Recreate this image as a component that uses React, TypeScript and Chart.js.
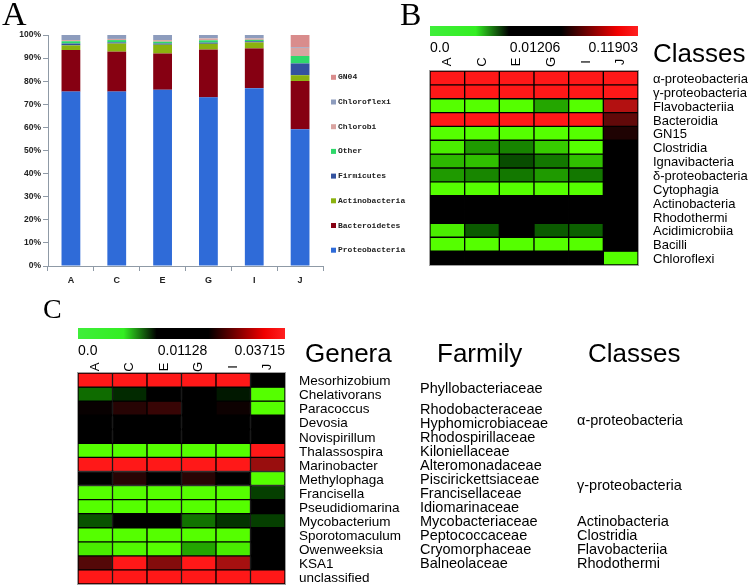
import React, { useEffect, useRef } from 'react';
import { Chart, registerables } from 'chart.js';

Chart.register(...registerables);

// ---------- Panel A: relative abundance of phyla ----------
const sampleLabels = ['A', 'C', 'E', 'G', 'I', 'J'];
const phylumNames = ['Proteobacteria', 'Bacteroidetes', 'Actinobacteria', 'Firmicutes', 'Other', 'Chlorobi', 'Chloroflexi', 'GN04'];
const proteobacteria = [75.5, 75.5, 76.3, 73.0, 77.0, 59.2];
const bacteroidetes = [18.0, 17.3, 15.7, 20.7, 17.2, 20.9];
const actinobacteria = [2.0, 3.5, 3.8, 2.5, 2.6, 2.5];
const firmicutes = [0.8, 0.5, 0.5, 0.5, 0.5, 5.1];
const otherPhyla = [1.0, 1.0, 0.8, 1.0, 0.6, 3.2];
const chlorobi = [0.5, 0.5, 0.7, 0.8, 0.6, 3.5];
const chloroflexi = [2.2, 1.7, 2.2, 1.5, 1.5, 0.3];
const gn04 = [0, 0, 0, 0, 0, 5.3];
const phylumSeries = [proteobacteria, bacteroidetes, actinobacteria, firmicutes, otherPhyla, chlorobi, chloroflexi, gn04];
const phylumColors = ['#2f6bd8', '#860012', '#8bb20f', '#34529e', '#2fd86a', '#d9a3a0', '#8d9cbd', '#d98c8c'];

// ---------- Panel B: classes heatmap ----------
const classNames = ['α-proteobacteria', 'γ-proteobacteria', 'Flavobacteriia', 'Bacteroidia', 'GN15', 'Clostridia', 'Ignavibacteria', 'δ-proteobacteria', 'Cytophagia', 'Actinobacteria', 'Rhodothermi', 'Acidimicrobiia', 'Bacilli', 'Chloroflexi'];
const classScale = [0.0, 0.01206, 0.11903];
const classScaleLabels = ['0.0', '0.01206', '0.11903'];
const classMatrix = [
  [0.11903, 0.11903, 0.11903, 0.11903, 0.11903, 0.11903],
  [0.11903, 0.11903, 0.11903, 0.11903, 0.11903, 0.11903],
  [0.0, 0.0, 0.0, 0.0042, 0.0, 0.087],
  [0.11903, 0.11903, 0.11903, 0.11903, 0.11903, 0.0527],
  [0.0, 0.0, 0.0, 0.0, 0.0, 0.0249],
  [0.0008, 0.0048, 0.0058, 0.0024, 0.0, 0.01206],
  [0.0033, 0.003, 0.0084, 0.0064, 0.003, 0.01206],
  [0.0048, 0.0057, 0.0064, 0.0048, 0.0064, 0.01206],
  [0.0, 0.0, 0.0, 0.0, 0.0, 0.01206],
  [0.01206, 0.01206, 0.01206, 0.01206, 0.01206, 0.01206],
  [0.01206, 0.01206, 0.01206, 0.01206, 0.01206, 0.01206],
  [0.0008, 0.0078, 0.01206, 0.0078, 0.0075, 0.01206],
  [0.0, 0.0, 0.0, 0.0, 0.0, 0.01206],
  [0.01206, 0.01206, 0.01206, 0.01206, 0.01206, 0.0],
];

// ---------- Panel C: genera heatmap ----------
const genusNames = ['Mesorhizobium', 'Chelativorans', 'Paracoccus', 'Devosia', 'Novispirillum', 'Thalassospira', 'Marinobacter', 'Methylophaga', 'Francisella', 'Pseudidiomarina', 'Mycobacterium', 'Sporotomaculum', 'Owenweeksia', 'KSA1', 'unclassified'];
const genusScale = [0.0, 0.01128, 0.03715];
const genusScaleLabels = ['0.0', '0.01128', '0.03715'];
const genusMatrix = [
  [0.03715, 0.03715, 0.03715, 0.03715, 0.03715, 0.01128],
  [0.0065, 0.0094, 0.01128, 0.01128, 0.0102, 0.0],
  [0.0121, 0.0152, 0.017, 0.01128, 0.0126, 0.0],
  [0.01128, 0.01128, 0.01128, 0.01128, 0.01128, 0.01128],
  [0.01128, 0.01128, 0.01128, 0.01128, 0.01128, 0.01128],
  [0.0, 0.0, 0.0, 0.0, 0.0, 0.03715],
  [0.03715, 0.03715, 0.03715, 0.03715, 0.03715, 0.0268],
  [0.01128, 0.0152, 0.01128, 0.0152, 0.01128, 0.0],
  [0.0, 0.0, 0.0, 0.0, 0.0, 0.0085],
  [0.0, 0.0, 0.0, 0.0, 0.0, 0.01128],
  [0.0076, 0.01128, 0.01128, 0.0062, 0.009, 0.0085],
  [0.0, 0.0, 0.0, 0.0, 0.0, 0.01128],
  [0.0008, 0.0003, 0.0, 0.004, 0.0008, 0.01128],
  [0.0198, 0.03715, 0.0247, 0.03715, 0.0281, 0.01128],
  [0.03715, 0.03715, 0.03715, 0.03715, 0.03715, 0.03715],
];
const familyNames = ['Phyllobacteriaceae', 'Rhodobacteraceae', 'Hyphomicrobiaceae', 'Rhodospirillaceae', 'Kiloniellaceae', 'Alteromonadaceae', 'Piscirickettsiaceae', 'Francisellaceae', 'Idiomarinaceae', 'Mycobacteriaceae', 'Peptococcaceae', 'Cryomorphaceae', 'Balneolaceae'];
const familyRows = [1.0, 2.5, 3.5, 4.5, 5.5, 6.5, 7.5, 8.5, 9.5, 10.5, 11.5, 12.5, 13.5];
const genusClassNames = ['α-proteobacteria', 'γ-proteobacteria', 'Actinobacteria', 'Clostridia', 'Flavobacteriia', 'Rhodothermi'];
const genusClassRows = [3.3, 7.9, 10.5, 11.5, 12.5, 13.5];

const SANS = "'Liberation Sans', Arial, sans-serif";
const SERIF = "'Liberation Serif', 'Times New Roman', serif";
const MONO = "'Liberation Mono', 'DejaVu Sans Mono', monospace";

function heatColor(v: number, scale: number[]): string {
  const [lo, mid, hi] = scale;
  if (v <= mid) {
    const t = Math.max(0, Math.min(1, (mid - v) / (mid - lo)));
    return `rgb(${Math.round(85 * t * t)},${Math.round(255 * t)},0)`;
  }
  const t = Math.max(0, Math.min(1, (v - mid) / (hi - mid)));
  return `rgb(${Math.round(255 * t)},${Math.round(24 * t)},${Math.round(24 * t)})`;
}

function drawColorBar(ctx: CanvasRenderingContext2D, x0: number, x1: number, y0: number, y1: number) {
  const g = ctx.createLinearGradient(x0, 0, x1, 0);
  g.addColorStop(0, '#3fee3a');
  g.addColorStop(0.22, '#33ee22');
  g.addColorStop(0.38, '#000000');
  g.addColorStop(0.63, '#000000');
  g.addColorStop(0.9, '#f00000');
  g.addColorStop(1, '#ff2020');
  ctx.fillStyle = g;
  ctx.fillRect(x0, y0, x1 - x0, y1 - y0);
}

function heatmapConfig(rowNames: string[], matrix: number[][], scale: number[], padding: any, extras: (chart: any) => void) {
  return {
    type: 'bar' as const,
    data: {
      labels: sampleLabels,
      datasets: rowNames.map((name, r) => ({
        label: name,
        data: sampleLabels.map(() => 1),
        backgroundColor: matrix[r].map((v) => heatColor(v, scale)),
        borderColor: '#000000',
        borderWidth: 1,
        borderSkipped: false,
        barPercentage: 1,
        categoryPercentage: 1,
      })),
    },
    options: {
      responsive: false,
      animation: false,
      layout: { padding },
      plugins: { legend: { display: false }, tooltip: { enabled: false } },
      scales: {
        x: { stacked: true, display: false },
        y: { stacked: true, display: false, reverse: true, min: 0, max: rowNames.length },
      },
    },
    plugins: [{ id: 'heatExtras', afterDraw: extras }],
  };
}

function drawHeatHeader(chart: any, scaleLabels: string[], barY0: number, barY1: number, numY: number, letterY: number) {
  const ctx = chart.ctx as CanvasRenderingContext2D;
  const ca = chart.chartArea;
  const xs = chart.scales.x;
  ctx.save();
  ctx.strokeStyle = '#a0a0a0';
  ctx.lineWidth = 1;
  ctx.strokeRect(ca.left - 0.5, ca.top - 0.5, ca.right - ca.left + 1, ca.bottom - ca.top + 1);
  drawColorBar(ctx, ca.left, ca.right, barY0, barY1);
  ctx.fillStyle = '#000';
  ctx.font = `14px ${SANS}`;
  ctx.textBaseline = 'middle';
  ctx.textAlign = 'left';
  ctx.fillText(scaleLabels[0], ca.left, numY);
  ctx.textAlign = 'center';
  ctx.fillText(scaleLabels[1], (ca.left + ca.right) / 2 + 1, numY);
  ctx.textAlign = 'right';
  ctx.fillText(scaleLabels[2], ca.right, numY);
  ctx.font = `13px ${SANS}`;
  ctx.textAlign = 'center';
  sampleLabels.forEach((s, i) => {
    ctx.save();
    ctx.translate(xs.getPixelForValue(i), letterY);
    ctx.rotate(-Math.PI / 2);
    ctx.fillText(s, 0, 0);
    ctx.restore();
  });
  ctx.restore();
}

export default function App() {
  const refA = useRef<HTMLCanvasElement>(null);
  const refB = useRef<HTMLCanvasElement>(null);
  const refC = useRef<HTMLCanvasElement>(null);

  useEffect(() => {
    const charts: Chart[] = [];

    // Panel A
    const legendPlugin = {
      id: 'phylaLegend',
      afterDraw(chart: any) {
        const ctx = chart.ctx as CanvasRenderingContext2D;
        const ca = chart.chartArea;
        ctx.save();
        ctx.fillStyle = '#000';
        ctx.font = `34px ${SERIF}`;
        ctx.textBaseline = 'alphabetic';
        ctx.textAlign = 'left';
        ctx.fillText('A', 2, 25);
        ctx.font = `bold 8px ${MONO}`;
        ctx.textBaseline = 'middle';
        const n = phylumNames.length;
        for (let k = 0; k < n; k++) {
          const i = n - 1 - k;
          const y = ca.top + 42.3 + k * 24.7;
          ctx.fillStyle = phylumColors[i];
          ctx.fillRect(ca.right + 8, y - 2.5, 5, 5);
          ctx.fillStyle = '#222';
          ctx.fillText(phylumNames[i], ca.right + 15, y);
        }
        ctx.restore();
      },
    };
    const axisColor = '#8f9aa6';
    charts.push(
      new Chart(refA.current!, {
        type: 'bar',
        data: {
          labels: sampleLabels,
          datasets: phylumNames.map((name, i) => ({
            label: name,
            data: phylumSeries[i],
            backgroundColor: phylumColors[i],
            borderWidth: 0,
            barPercentage: 0.41,
            categoryPercentage: 1,
          })),
        },
        options: {
          responsive: false,
          animation: false,
          layout: { padding: { left: 8, top: 35, right: 97, bottom: 4 } },
          plugins: { legend: { display: false }, tooltip: { enabled: false } },
          scales: {
            x: {
              stacked: true,
              grid: { offset: true, drawOnChartArea: false, tickLength: 5, color: axisColor },
              border: { color: axisColor },
              ticks: { font: { family: SANS, size: 9, weight: 'bold' }, color: '#222', padding: 4 },
              afterFit: (s: any) => { s.height = 30; },
            },
            y: {
              stacked: true,
              min: 0,
              max: 100,
              ticks: {
                stepSize: 10,
                callback: (v: any) => `${v}%`,
                font: { family: SANS, size: 8.5, weight: 'bold' },
                color: '#222',
                padding: 2,
              },
              grid: { drawOnChartArea: false, tickLength: 5, color: axisColor },
              border: { color: axisColor },
              afterFit: (s: any) => { s.width = 40; },
            },
          },
        },
        plugins: [legendPlugin],
      } as any)
    );

    // Panel B
    charts.push(
      new Chart(
        refB.current!,
        heatmapConfig(classNames, classMatrix, classScale, { left: 50, top: 71, right: 118, bottom: 25 }, (chart: any) => {
          const ctx = chart.ctx as CanvasRenderingContext2D;
          const ca = chart.chartArea;
          const ys = chart.scales.y;
          drawHeatHeader(chart, classScaleLabels, 26, 36, 48, 62);
          ctx.save();
          ctx.fillStyle = '#000';
          ctx.font = `32px ${SERIF}`;
          ctx.textBaseline = 'alphabetic';
          ctx.textAlign = 'left';
          ctx.fillText('B', 20, 25);
          ctx.textBaseline = 'middle';
          ctx.font = `26px ${SANS}`;
          ctx.fillText('Classes', ca.right + 15, 55);
          ctx.font = `13px ${SANS}`;
          classNames.forEach((name, r) => {
            ctx.fillText(name, ca.right + 15, ys.getPixelForValue(r + 0.5) + 1.5);
          });
          ctx.restore();
        }) as any
      )
    );

    // Panel C
    charts.push(
      new Chart(
        refC.current!,
        heatmapConfig(genusNames, genusMatrix, genusScale, { left: 78, top: 83, right: 471, bottom: 3 }, (chart: any) => {
          const ctx = chart.ctx as CanvasRenderingContext2D;
          const ca = chart.chartArea;
          const ys = chart.scales.y;
          drawHeatHeader(chart, genusScaleLabels, 38, 49, 61, 77);
          ctx.save();
          ctx.fillStyle = '#000';
          ctx.font = `28px ${SERIF}`;
          ctx.textBaseline = 'alphabetic';
          ctx.textAlign = 'left';
          ctx.fillText('C', 43, 28);
          ctx.textBaseline = 'middle';
          ctx.font = `26px ${SANS}`;
          ctx.fillText('Genera', ca.right + 20, 65);
          ctx.fillText('Farmily', ca.right + 152, 65);
          ctx.fillText('Classes', ca.right + 303, 65);
          ctx.font = `13.5px ${SANS}`;
          genusNames.forEach((name, r) => {
            ctx.fillText(name, ca.right + 14, ys.getPixelForValue(r + 0.5) + 1.5);
          });
          ctx.font = `14.5px ${SANS}`;
          familyNames.forEach((name, k) => {
            ctx.fillText(name, ca.right + 135, ys.getPixelForValue(familyRows[k]) + 1.5);
          });
          genusClassNames.forEach((name, k) => {
            ctx.fillText(name, ca.right + 292, ys.getPixelForValue(genusClassRows[k]) + 1.5);
          });
          ctx.restore();
        }) as any
      )
    );

    return () => charts.forEach((c) => c.destroy());
  }, []);

  return (
    <div style={{ position: 'fixed', left: 0, top: 0, width: 756, height: 587, background: '#fff', overflow: 'hidden' }}>
      <canvas ref={refA} width={420} height={300} style={{ position: 'absolute', left: 0, top: 0 }} />
      <canvas ref={refB} width={376} height={290} style={{ position: 'absolute', left: 380, top: 0 }} />
      <canvas ref={refC} width={756} height={297} style={{ position: 'absolute', left: 0, top: 290 }} />
    </div>
  );
}
